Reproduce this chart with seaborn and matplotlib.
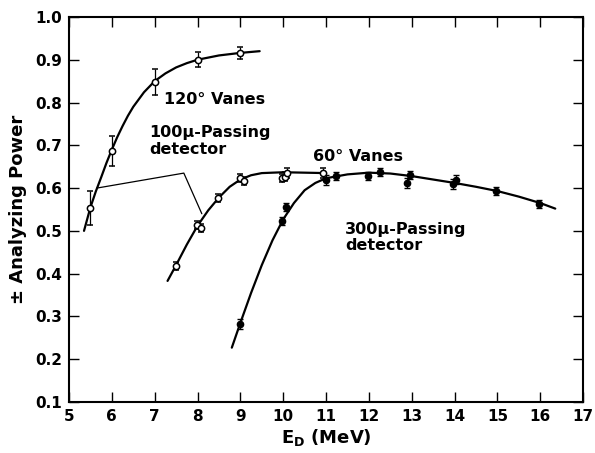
import numpy as np
import pandas as pd
import matplotlib
matplotlib.use("Agg")
import matplotlib.pyplot as plt
import seaborn as sns

# measured points: 120 deg vanes (open circles)
e_120 = [5.5, 6.0, 7.0, 8.0, 9.0]
p_120 = [0.554, 0.687, 0.848, 0.900, 0.916]
err_120 = [0.040, 0.035, 0.030, 0.018, 0.014]

# 100 micron passing detector (open circles)
e_100 = [7.5, 7.98, 8.07, 8.47, 8.98, 9.09, 9.97, 10.04, 10.09, 10.92]
p_100 = [0.418, 0.514, 0.507, 0.577, 0.624, 0.617, 0.624, 0.627, 0.635, 0.635]
err_100 = [0.010, 0.010, 0.010, 0.010, 0.010, 0.010, 0.010, 0.010, 0.012, 0.012]

# 300 micron passing detector (filled circles)
e_300 = [9.0, 9.97, 10.06, 10.99, 11.24, 11.98, 12.26, 12.9, 12.95, 13.97, 14.03, 14.97, 15.96]
p_300 = [0.283, 0.523, 0.556, 0.619, 0.628, 0.628, 0.638, 0.612, 0.631, 0.609, 0.620, 0.593, 0.563]
err_300 = [0.012, 0.010, 0.010, 0.012, 0.010, 0.010, 0.010, 0.012, 0.010, 0.012, 0.010, 0.010, 0.010]

# hand-drawn guide curves
curve_120_e = [5.35, 5.5, 5.625, 5.75, 5.875, 6.0, 6.125, 6.25, 6.375, 6.5, 6.75, 7.0, 7.25, 7.5,
               7.75, 8.0, 8.5, 9.0, 9.45]
curve_120_p = [0.500, 0.555, 0.592, 0.625, 0.659, 0.690, 0.719, 0.745, 0.769, 0.790, 0.824, 0.850,
               0.868, 0.882, 0.892, 0.900, 0.910, 0.916, 0.920]

curve_100_e = [7.3, 7.5, 7.75, 8.0, 8.25, 8.5, 8.75, 9.0, 9.25, 9.5, 10.0, 10.5, 11.0]
curve_100_p = [0.383, 0.420, 0.468, 0.512, 0.548, 0.578, 0.603, 0.620, 0.630, 0.635, 0.637, 0.636, 0.635]

curve_300_e = [8.8, 9.0, 9.25, 9.5, 9.75, 10.0, 10.25, 10.5, 10.75, 11.0, 11.5, 12.0, 12.5,
               13.0, 13.5, 14.0, 14.5, 15.0, 15.5, 16.0, 16.35]
curve_300_p = [0.227, 0.285, 0.355, 0.420, 0.478, 0.527, 0.565, 0.595, 0.612, 0.623, 0.632, 0.636, 0.634,
               0.628, 0.620, 0.612, 0.603, 0.593, 0.580, 0.565, 0.552]

# leader lines for the "100u-Passing detector" label
leader_e = [5.65, 7.68, 8.1]
leader_p = [0.600, 0.635, 0.540]

sns.set_style("ticks")
plt.rcParams['font.family'] = ['DejaVu Sans']
plt.rcParams['font.weight'] = 'bold'
plt.rcParams['text.color'] = 'black'
plt.rcParams['axes.labelcolor'] = 'black'
plt.rcParams['xtick.color'] = 'black'
plt.rcParams['ytick.color'] = 'black'
plt.rcParams['axes.edgecolor'] = 'black'

fig = plt.figure(figsize=(5.95, 4.53), dpi=100)
ax = fig.add_axes([0.116, 0.1126, 0.864, 0.85])

curves = pd.concat([
    pd.DataFrame({'E': curve_120_e, 'P': curve_120_p, 'set': '120'}),
    pd.DataFrame({'E': curve_100_e, 'P': curve_100_p, 'set': '100'}),
    pd.DataFrame({'E': curve_300_e, 'P': curve_300_p, 'set': '300'}),
])
sns.lineplot(data=curves, x='E', y='P', units='set', estimator=None, sort=False,
             color='black', linewidth=1.6, ax=ax)
ax.plot(leader_e, leader_p, color='black', linewidth=0.9)

ax.errorbar(e_120, p_120, yerr=err_120, fmt='o', ms=4.5, mfc='white', mec='black',
            mew=1.1, ecolor='black', elinewidth=0.9, capsize=2.5, zorder=5)
ax.errorbar(e_100, p_100, yerr=err_100, fmt='o', ms=4.5, mfc='white', mec='black',
            mew=1.1, ecolor='black', elinewidth=0.9, capsize=2, zorder=5)
ax.errorbar(e_300, p_300, yerr=err_300, fmt='o', ms=4.5, mfc='black', mec='black',
            mew=1.0, ecolor='black', elinewidth=0.9, capsize=2, zorder=5)

ax.set_xlim(5, 17)
ax.set_ylim(0.1, 1.0)
ax.set_xticks(range(5, 18))
ax.set_yticks(np.round(np.arange(0.1, 1.01, 0.1), 1))
ax.set_yticklabels([f"{v:.1f}" for v in np.arange(0.1, 1.01, 0.1)])
ax.tick_params(direction='in', length=7, width=1, top=True, right=True,
               labelsize=11, pad=5)
for lab in ax.get_xticklabels() + ax.get_yticklabels():
    lab.set_fontweight('bold')
for s in ax.spines.values():
    s.set_linewidth(1.5)
    s.set_visible(True)

ax.set_xlabel(r"E$_\mathregular{D}$ (MeV)", fontsize=13, fontweight='bold', labelpad=2)
ax.set_ylabel("± Analyzing Power", fontsize=13, fontweight='bold', labelpad=6)

ax.text(7.22, 0.808, "120° Vanes", fontsize=11.5, fontweight='bold', va='center')
ax.text(6.87, 0.71, "100μ-Passing\ndetector", fontsize=11.5, fontweight='bold',
        va='center', linespacing=1.1)
ax.text(10.69, 0.673, "60° Vanes", fontsize=11.5, fontweight='bold', va='center')
ax.text(11.45, 0.485, "300μ-Passing\ndetector", fontsize=11.5, fontweight='bold',
        va='center', linespacing=1.1)

fig.savefig("out.png", dpi=100)
